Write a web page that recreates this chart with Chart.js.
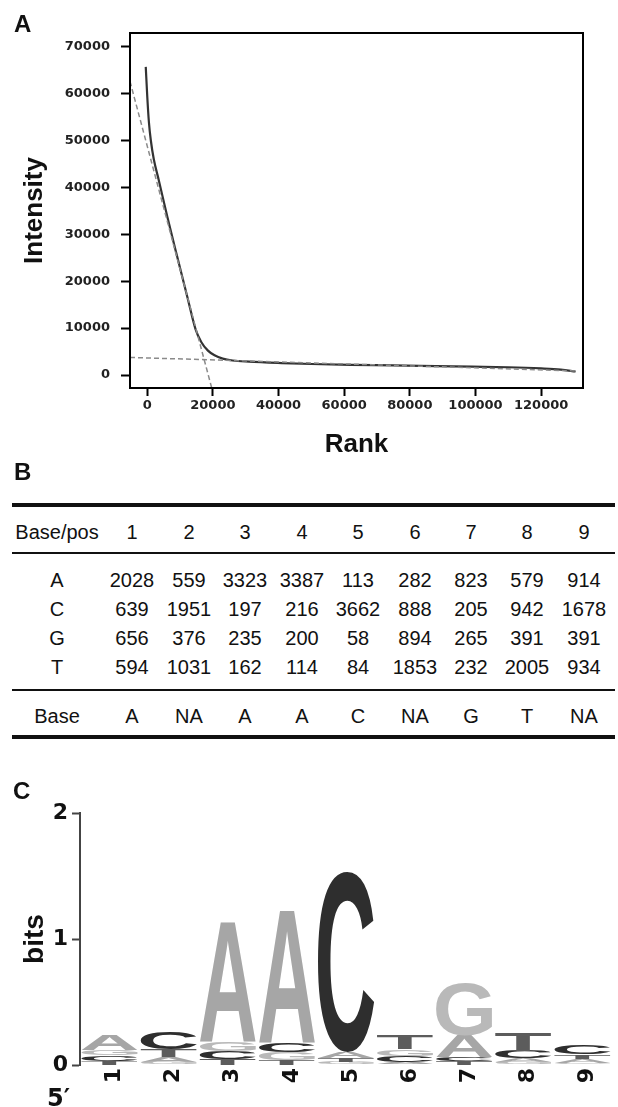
<!DOCTYPE html>
<html>
<head>
<meta charset="utf-8">
<script src="https://cdn.jsdelivr.net/npm/chart.js"></script>
<style>
  html, body { margin: 0; padding: 0; background: #fff; }
  #page { position: relative; width: 618px; height: 1107px; overflow: hidden;
          font-family: "Liberation Sans", Arial, sans-serif; color: #111; }
  .abs { position: absolute; }
  .panel { font-weight: bold; font-size: 24px; line-height: 24px; }
  .cell { position: absolute; width: 90px; text-align: center; font-size: 20px;
          line-height: 24px; white-space: nowrap; }
  .rule { position: absolute; left: 12px; width: 603px; background: #111; }
</style>
</head>
<body>
<div id="page">
  <canvas id="rankChart" class="abs" style="left:0;top:0;width:618px;height:470px" width="618" height="470"></canvas>
  <canvas id="logoChart" class="abs" style="left:0;top:790px;width:618px;height:317px" width="618" height="317"></canvas>
  <div id="table" class="abs" style="left:0;top:0"></div>
  <div class="abs panel" style="left:14px;top:12px">A</div>
  <div class="abs panel" style="left:14px;top:460px">B</div>
  <div class="abs panel" style="left:13px;top:779px">C</div>
  <div class="abs" style="left:47px;top:1086px;font:bold 24px/24px 'DejaVu Sans';">5′</div>
</div>
<script>
// Panel A: intensity vs rank
const rankValues = [-450, 0, 500, 1100, 2000, 3500, 6100, 9100, 12200, 14700, 16500, 18500,
                    20500, 23000, 26000, 31000, 41000, 50000, 62000, 75000, 88000, 99000,
                    110000, 120000, 126000, 130500];
const intensityValues = [65700, 59500, 54000, 50000, 46000, 41600, 33800, 25300, 16700, 9800, 7000, 5200,
                         4200, 3500, 3100, 2850, 2550, 2350, 2150, 2050, 1900, 1780,
                         1650, 1400, 1150, 750];
const steepFitRank = [-5250, 19650];
const steepFitIntensity = [62600, -2770];
const tailFitRank = [-5250, 130500];
const tailFitIntensity = [3750, 870];
const rankTicks = [0, 20000, 40000, 60000, 80000, 100000, 120000];
const intensityTicks = [0, 10000, 20000, 30000, 40000, 50000, 60000, 70000];

// Panel B: base counts per position
const positions = ['1', '2', '3', '4', '5', '6', '7', '8', '9'];
const baseNames = ['A', 'C', 'G', 'T'];
const countsA = [2028, 559, 3323, 3387, 113, 282, 823, 579, 914];
const countsC = [639, 1951, 197, 216, 3662, 888, 205, 942, 1678];
const countsG = [656, 376, 235, 200, 58, 894, 265, 391, 391];
const countsT = [594, 1031, 162, 114, 84, 1853, 232, 2005, 934];
const consensus = ['A', 'NA', 'A', 'A', 'C', 'NA', 'G', 'T', 'NA'];

// Panel C: letter heights (bits)
const bitsA = [0.12, 0.04, 0.95, 1.05, 0.045, 0.02, 0.17, 0.035, 0.035];
const bitsC = [0.04, 0.13, 0.06, 0.07, 1.43, 0.054, 0.035, 0.06, 0.07];
const bitsG = [0.04, 0.025, 0.07, 0.06, 0.02, 0.056, 0.42, 0.02, 0.015];
const bitsT = [0.035, 0.06, 0.05, 0.04, 0.035, 0.115, 0.03, 0.14, 0.035];
const bitsTicks = [0, 1, 2];

const tickFont = { family: 'DejaVu Sans', weight: 'bold', size: 13 };

// frame around the plot area
const frameBox = {
    id: 'frameBox',
    afterDraw(chart) {
        const a = chart.chartArea, ctx = chart.ctx;
        ctx.save();
        ctx.strokeStyle = '#000';
        ctx.lineWidth = 2;
        ctx.strokeRect(a.left, a.top, a.right - a.left, a.bottom - a.top);
        ctx.restore();
    }
};

const toPoints = (xs, ys) => xs.map((x, i) => ({ x: x, y: ys[i] }));

new Chart(document.getElementById('rankChart'), {
    type: 'line',
    data: {
        datasets: [
            {
                data: toPoints(steepFitRank, steepFitIntensity),
                borderColor: '#8a8a8a', borderWidth: 1.5, borderDash: [5, 3], pointRadius: 0
            },
            {
                data: toPoints(tailFitRank, tailFitIntensity),
                borderColor: '#8a8a8a', borderWidth: 1.5, borderDash: [5, 3], pointRadius: 0
            },
            {
                data: toPoints(rankValues, intensityValues),
                borderColor: '#333', borderWidth: 2.2, pointRadius: 0,
                cubicInterpolationMode: 'monotone'
            }
        ]
    },
    options: {
        responsive: false,
        animation: false,
        devicePixelRatio: 1,
        events: [],
        layout: { padding: { top: 33, right: 35, left: 0, bottom: 0 } },
        plugins: { legend: { display: false }, tooltip: { enabled: false } },
        scales: {
            x: {
                type: 'linear', min: -5250, max: 132750,
                afterBuildTicks: s => { s.ticks = rankTicks.map(v => ({ value: v })); },
                afterFit: s => { s.height = 82; },
                grid: { drawOnChartArea: false, tickLength: 8, tickWidth: 2, tickColor: '#000' },
                border: { display: false },
                ticks: {
                    font: tickFont, color: '#222', padding: 2, maxRotation: 0, autoSkip: false,
                    callback: v => String(v)
                },
                title: {
                    display: true, text: 'Rank', color: '#111',
                    font: { family: 'Liberation Sans', weight: 'bold', size: 26 },
                    padding: { top: 0, bottom: 10 }
                }
            },
            y: {
                type: 'linear', min: -2770, max: 72920,
                afterBuildTicks: s => { s.ticks = intensityTicks.map(v => ({ value: v })); },
                afterFit: s => { s.width = 130; },
                grid: { drawOnChartArea: false, tickLength: 9, tickWidth: 2, tickColor: '#000' },
                border: { display: false },
                ticks: { font: tickFont, color: '#222', padding: 11, autoSkip: false, callback: v => String(v) },
                title: {
                    display: true, text: 'Intensity', color: '#111',
                    font: { family: 'Liberation Sans', weight: 'bold', size: 26 },
                    padding: { top: 19, bottom: 0 }
                }
            }
        }
    },
    plugins: [frameBox]
});

// Panel B: table
const tableBox = document.getElementById('table');
const colX = [57, 132, 189, 245, 302, 358, 415, 471, 527, 584];
const countRowsY = [580, 609, 638, 667];
const rules = [[505, 3.5], [553, 2.5], [690, 2.5], [737, 3.5]];

function addCell(text, cx, cy) {
    const d = document.createElement('div');
    d.className = 'cell';
    d.style.left = (cx - 45) + 'px';
    d.style.top = (cy - 12) + 'px';
    d.textContent = text;
    tableBox.appendChild(d);
}
rules.forEach(([y, h]) => {
    const r = document.createElement('div');
    r.className = 'rule';
    r.style.top = (y - h / 2) + 'px';
    r.style.height = h + 'px';
    tableBox.appendChild(r);
});
addCell('Base/pos', colX[0], 532);
positions.forEach((p, i) => addCell(p, colX[i + 1], 532));
[countsA, countsC, countsG, countsT].forEach((counts, r) => {
    addCell(baseNames[r], colX[0], countRowsY[r]);
    counts.forEach((v, i) => addCell(String(v), colX[i + 1], countRowsY[r]));
});
addCell('Base', colX[0], 716);
consensus.forEach((b, i) => addCell(b, colX[i + 1], 716));

// Panel C: sequence logo
const letterColors = { A: '#a6a6a6', C: '#2e2e2e', G: '#b9b9b9', T: '#5c5c5c' };
const bitsByLetter = { A: bitsA, C: bitsC, G: bitsG, T: bitsT };

// smaller letters sit lower in each column
function stackedRanges(letter) {
    return positions.map((p, i) => {
        const h = bitsByLetter[letter][i];
        let lo = 0;
        baseNames.forEach(o => {
            const oh = bitsByLetter[o][i];
            if (oh < h || (oh === h && baseNames.indexOf(o) < baseNames.indexOf(letter))) lo += oh;
        });
        return [lo, lo + h];
    });
}

const letterGlyphs = {
    id: 'letterGlyphs',
    afterDatasetsDraw(chart) {
        const ctx = chart.ctx;
        ctx.save();
        ctx.font = 'bold 200px "Liberation Sans"';
        ctx.textAlign = 'left';
        ctx.textBaseline = 'alphabetic';
        chart.data.datasets.forEach((ds, di) => {
            const m = ctx.measureText(ds.label);
            const gw = m.actualBoundingBoxLeft + m.actualBoundingBoxRight;
            const gh = m.actualBoundingBoxAscent + m.actualBoundingBoxDescent;
            chart.getDatasetMeta(di).data.forEach(bar => {
                const { x, y, base, width } = bar.getProps(['x', 'y', 'base', 'width'], true);
                const top = Math.min(y, base);
                const h = Math.abs(base - y);
                if (h < 0.5) return;
                ctx.save();
                ctx.translate(x - width / 2, top);
                ctx.scale(width / gw, h / gh);
                ctx.fillStyle = letterColors[ds.label];
                ctx.fillText(ds.label, m.actualBoundingBoxLeft, m.actualBoundingBoxAscent);
                ctx.restore();
            });
        });
        ctx.restore();
    }
};

new Chart(document.getElementById('logoChart'), {
    type: 'bar',
    data: {
        labels: positions,
        datasets: baseNames.map(b => ({
            label: b,
            data: stackedRanges(b),
            backgroundColor: 'rgba(0,0,0,0)',
            borderWidth: 0,
            grouped: false,
            barPercentage: 0.95,
            categoryPercentage: 1
        }))
    },
    options: {
        responsive: false,
        animation: false,
        devicePixelRatio: 1,
        events: [],
        layout: { padding: { top: 23, right: 6, left: 0, bottom: 0 } },
        plugins: { legend: { display: false }, tooltip: { enabled: false } },
        scales: {
            x: {
                type: 'category',
                afterFit: s => { s.height = 42; },
                grid: { display: false, drawTicks: false },
                border: { display: false },
                ticks: {
                    font: { family: 'DejaVu Sans', weight: 'bold', size: 22 }, color: '#111',
                    minRotation: 90, maxRotation: 90, padding: 3, autoSkip: false, labelOffset: 5
                }
            },
            y: {
                min: 0, max: 2,
                afterBuildTicks: s => { s.ticks = bitsTicks.map(v => ({ value: v })); },
                afterFit: s => { s.width = 80; },
                grid: { drawOnChartArea: false, tickLength: 8, tickWidth: 2, tickColor: '#444' },
                border: { display: true, color: '#444', width: 2 },
                ticks: { font: { family: 'DejaVu Sans', weight: 'bold', size: 22 }, color: '#111', padding: 4 },
                title: {
                    display: true, text: 'bits', color: '#111',
                    font: { family: 'Liberation Sans', weight: 'bold', size: 28 },
                    padding: { top: 18, bottom: 0 }
                }
            }
        }
    },
    plugins: [letterGlyphs]
});
</script>
</body>
</html>
